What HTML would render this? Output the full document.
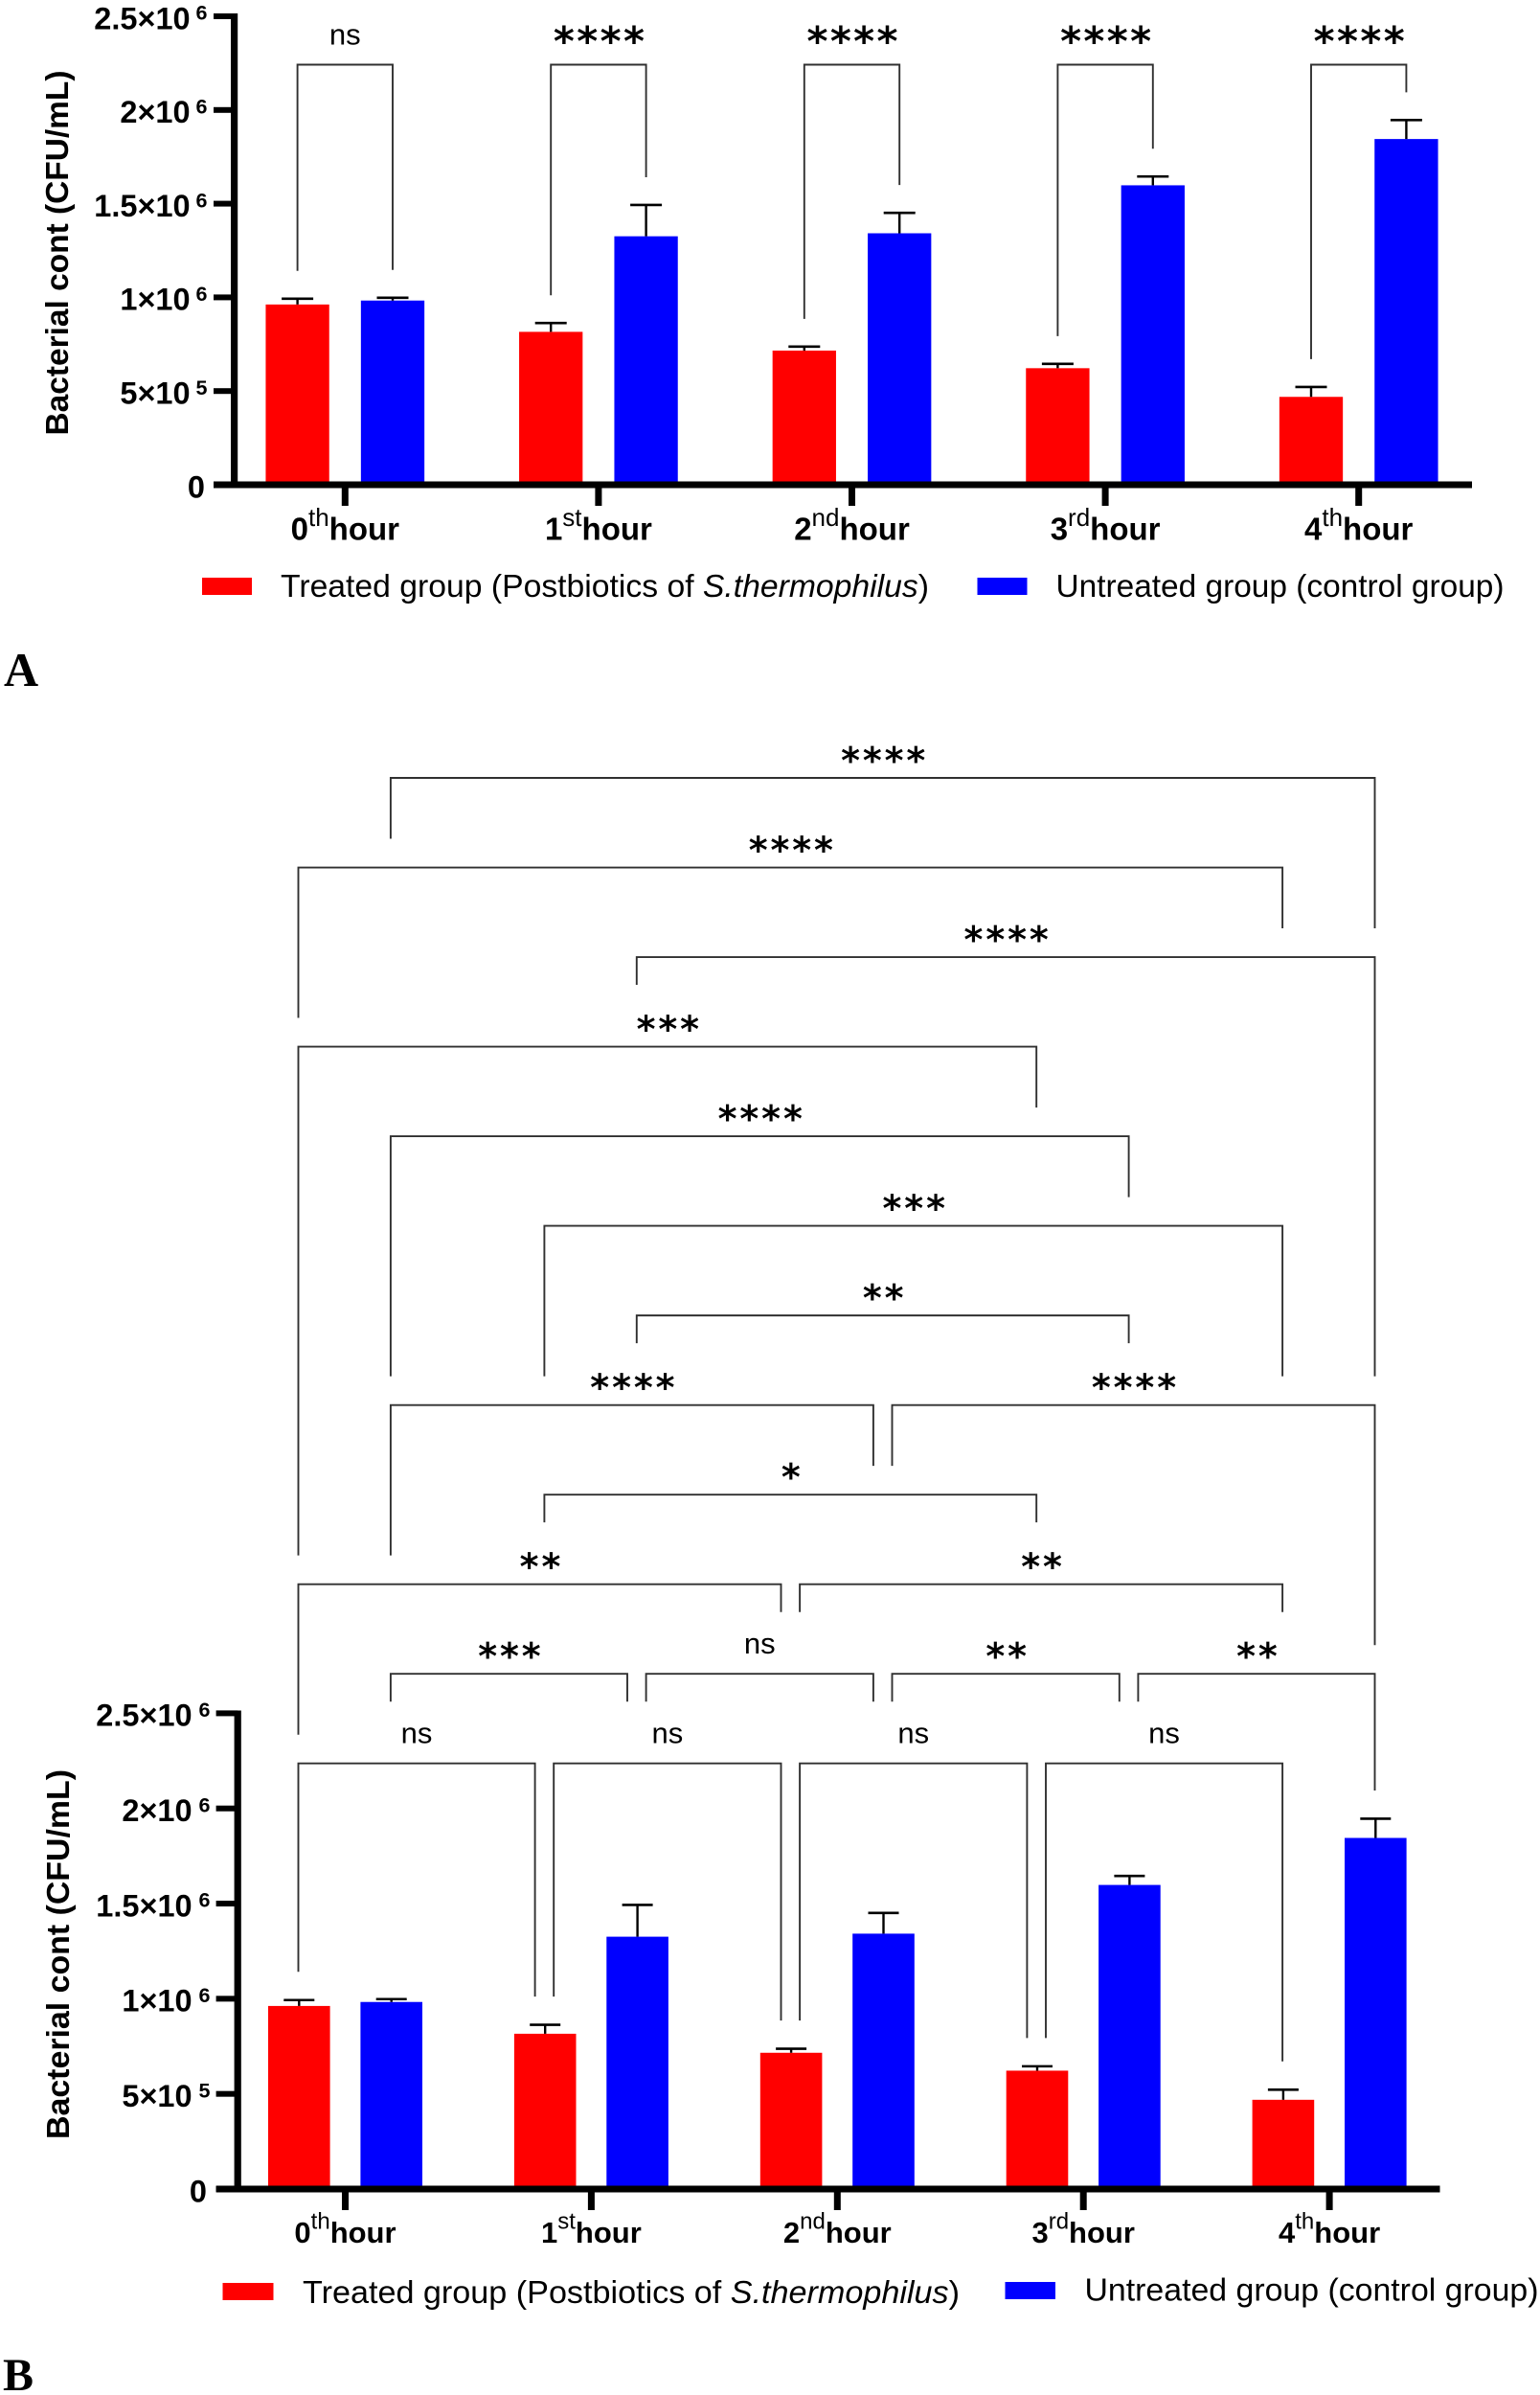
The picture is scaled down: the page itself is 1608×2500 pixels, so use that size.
<!DOCTYPE html>
<html lang="en">
<head>
<meta charset="utf-8">
<title>Bacterial count over time</title>
<style>
html,body{margin:0;padding:0;background:#fff}
svg{display:block}
text{font-family:"Liberation Sans",Arial,sans-serif;fill:#000}
.legend{font-size:33.4px}
.panel-letter{font-family:"Liberation Serif","Times New Roman",serif;font-weight:bold}
</style>
</head>
<body>
<svg id="figure" xmlns="http://www.w3.org/2000/svg" width="1608" height="2500" viewBox="0 0 1608 2500">
  <rect width="1608" height="2500" fill="#fff"/>
  <g id="panelA"></g>
  <g id="panelB"></g>

  <g>
    <rect x="211" y="603" width="52" height="18" fill="#ff0000"/>
    <text class="legend" x="293" y="623" textLength="677" lengthAdjust="spacingAndGlyphs">Treated group (Postbiotics of <tspan font-style="italic">S.thermophilus</tspan>)</text>
    <rect x="1020.5" y="603" width="52" height="18" fill="#0000ff"/>
    <text class="legend" x="1102.5" y="623" textLength="468" lengthAdjust="spacingAndGlyphs">Untreated group (control group)</text>
  </g>
  <text class="panel-letter" x="4" y="716" font-size="50">A</text>

  <g>
    <rect x="232.5" y="2383" width="53" height="18" fill="#ff0000"/>
    <text class="legend" x="316" y="2404" textLength="686" lengthAdjust="spacingAndGlyphs">Treated group (Postbiotics of <tspan font-style="italic">S.thermophilus</tspan>)</text>
    <rect x="1049.5" y="2382" width="52.5" height="18" fill="#0000ff"/>
    <text class="legend" x="1132.5" y="2401.5" textLength="474" lengthAdjust="spacingAndGlyphs">Untreated group (control group)</text>
  </g>
  <text class="panel-letter" x="3" y="2495" font-size="48">B</text>
</svg>

<script>
// ---- chart data ----
const categoryDigits = ['0', '1', '2', '3', '4'];
const categorySuffixes = ['th', 'st', 'nd', 'rd', 'th'];
const treatedValues = [962000, 816000, 716000, 622000, 469000];
const untreatedValues = [983000, 1326000, 1342000, 1598000, 1845000];
const treatedErrorTops = [993000, 863000, 737000, 645000, 522000];
const untreatedErrorTops = [998000, 1493000, 1451000, 1645000, 1946000];
const yTickValues = [0, 500000, 1000000, 1500000, 2000000, 2500000];
const yTickMantissas = ['0', '5×10', '1×10', '1.5×10', '2×10', '2.5×10'];
const yTickExponents = ['', '5', '6', '6', '6', '6'];
const yMax = 2500000;

// ---- significance comparisons: label, level, from, to, left stop, right stop ----
const comparisonsA = [
  ['ns', 0, 'r0', 'b0', 'E', 'E'],
  ['****', 0, 'r1', 'b1', 'E', 'E'],
  ['****', 0, 'r2', 'b2', 'E', 'E'],
  ['****', 0, 'r3', 'b3', 'E', 'E'],
  ['****', 0, 'r4', 'b4', 'E', 'E']
];
const comparisonsB = [
  ['****', 0, 'b0', 'b4', 'L1', 'L2'],
  ['****', 1, 'r0', 'r4', 'L3', 'L2'],
  ['****', 2, 'b1', 'b4', 'S3', 'L7'],
  ['***', 3, 'r0', 'r3', 'L9', 'L4'],
  ['****', 4, 'b0', 'b3', 'L7', 'L5'],
  ['***', 5, 'r1', 'r4', 'L7', 'L7'],
  ['**', 6, 'b1', 'b3', 'S7', 'S7'],
  ['****', 7, 'b0', 'b2-', 'L9', 'L8'],
  ['****', 7, 'b2+', 'b4', 'L8', 'L10'],
  ['*', 8, 'r1', 'r3', 'S9', 'S9'],
  ['**', 9, 'r0', 'r2-', 'L11', 'S10'],
  ['**', 9, 'r2+', 'r4', 'S10', 'S10'],
  ['***', 10, 'b0', 'b1-', 'S11', 'S11'],
  ['ns', 10, 'b1+', 'b2-', 'S11', 'S11'],
  ['**', 10, 'b2+', 'b3-', 'S11', 'S11'],
  ['**', 10, 'b3+', 'b4', 'S11', 'E'],
  ['ns', 11, 'r0', 'r1-', 'E', 'E'],
  ['ns', 11, 'r1+', 'r2-', 'E', 'E'],
  ['ns', 11, 'r2+', 'r3-', 'E', 'E'],
  ['ns', 11, 'r3+', 'r4', 'E', 'E']
];

const SVGNS = 'http://www.w3.org/2000/svg';
function mk(tag, attrs, parent) {
  const el = document.createElementNS(SVGNS, tag);
  for (const k in attrs) el.setAttribute(k, attrs[k]);
  parent.appendChild(el);
  return el;
}

function drawPanel(root, c, comparisons) {
  const y = v => c.y0 - (v / yMax) * c.plotH;
  const groupX = i => c.x0 + c.step * i;
  const levelY = l => c.level0 + c.levelStep * l;
  const series = [
    {key: 'treated', color: '#ff0000', vals: treatedValues, errs: treatedErrorTops, off: -c.off},
    {key: 'untreated', color: '#0000ff', vals: untreatedValues, errs: untreatedErrorTops, off: c.off}
  ];

  // bars + error bars
  series.forEach(s => {
    s.vals.forEach((v, i) => {
      const cx = groupX(i) + s.off;
      const bar = mk('rect', {x: cx - c.barW / 2, y: y(v), width: c.barW, height: c.y0 - y(v), fill: s.color}, root);
      
      
      const e = y(s.errs[i]);
      const stem = mk('line', {x1: cx, x2: cx, y1: y(v), y2: e, stroke: '#000', 'stroke-width': 2.4}, root);
      
      
      const cap = mk('line', {x1: cx - c.cap / 2, x2: cx + c.cap / 2, y1: e, y2: e, stroke: '#000', 'stroke-width': 2.6}, root);
      
      
    });
  });

  // axes
  const yAxis = mk('rect', {x: c.axisX - 3.6, y: c.axisTop, width: 7.2, height: c.y0 + 3.5 - c.axisTop, fill: '#000'}, root);
  
  
  const xAxis = mk('rect', {x: c.axisLeft, y: c.y0 - 3.5, width: c.axisRight - c.axisLeft, height: 7, fill: '#000'}, root);
  
  

  // y ticks
  yTickValues.forEach((v, i) => {
    const ty = y(v);
    const tick = mk('rect', {x: c.axisLeft, y: ty - 3, width: c.axisX - c.axisLeft, height: 6, fill: '#000'}, root);
    
    
    const isZero = yTickExponents[i] === '';
    const label = mk('text', {x: isZero ? c.zeroX : c.mantissaX, y: ty + c.tickBase, 'text-anchor': 'end', 'font-weight': 'bold', 'font-size': c.tickFont}, root);
    label.textContent = yTickMantissas[i];
    
    
    if (!isZero) {
      const sup = mk('text', {x: c.expX, y: ty + c.tickBase - 9.6, 'font-weight': 'bold', 'font-size': 21.5}, root);
      sup.textContent = yTickExponents[i];
      
      
    }
  });

  // x ticks + labels
  categoryDigits.forEach((d, i) => {
    const gx = groupX(i);
    const tick = mk('rect', {x: gx - 3.5, y: c.y0 + 3, width: 7, height: c.xTickLen, fill: '#000'}, root);
    
    
    const label = mk('text', {x: gx, y: c.xLabelY, 'text-anchor': 'middle', 'font-weight': 'bold', 'font-size': c.xFont}, root);
    
    
    const t1 = mk('tspan', {}, label);
    t1.textContent = d;
    const t2 = mk('tspan', {'font-weight': 'normal', 'font-size': c.supFont, dy: -14.5}, label);
    t2.textContent = categorySuffixes[i];
    const t3 = mk('tspan', {dy: 14.5}, label);
    t3.textContent = 'hour';
  });

  // y-axis title
  const title = mk('text', {
    x: 0, y: 0, 'text-anchor': 'middle', 'font-weight': 'bold', 'font-size': 33.5,
    textLength: c.titleLen, lengthAdjust: 'spacingAndGlyphs',
    transform: 'translate(' + c.titleX + ' ' + c.titleY + ') rotate(-90)'
  }, root);
  title.textContent = 'Bacterial cont (CFU/mL)';
  
  

  // brackets
  const refX = r => {
    const g = +r[1];
    let x = groupX(g) + (r[0] === 'r' ? -c.off : c.off) + c.bracketShift;
    if (r[2] === '-') x -= c.split;
    if (r[2] === '+') x += c.split;
    return x;
  };
  const refErr = r => (r[0] === 'r' ? treatedErrorTops : untreatedErrorTops)[+r[1]];
  const stopY = (stop, r) => {
    if (stop === 'E') return y(refErr(r)) - c.errGap;
    const n = +stop.slice(1);
    return levelY(n) - (stop[0] === 'L' ? 30 : 64.5);
  };
  comparisons.forEach((cmp, i) => {
    const lab = cmp[0], ly = levelY(cmp[1]), a = cmp[2], b = cmp[3];
    const xa = refX(a), xb = refX(b);
    const d = 'M' + xa + ' ' + stopY(cmp[4], a) + 'V' + ly + 'H' + xb + 'V' + stopY(cmp[5], b);
    const path = mk('path', {d: d, fill: 'none', stroke: '#303030', 'stroke-width': 1.9}, root);
    
    
    const mid = (xa + xb) / 2;
    const isNs = lab === 'ns';
    const t = mk('text', isNs
      ? {x: mid, y: ly - 21, 'text-anchor': 'middle', 'font-size': 31}
      : {x: mid + c.starSpace / 2 + 0.5, y: ly + c.starDy, 'text-anchor': 'middle', 'font-size': c.starFont, 'font-weight': 'bold', 'letter-spacing': c.starSpace, style: 'font-family:"DejaVu Sans",sans-serif'}, root);
    t.textContent = lab;
    
    
  });
}

drawPanel(document.getElementById('panelA'), {
  y0: 506, plotH: 489, x0: 360.3, step: 264.6, off: 49.7, barW: 66.3, cap: 33,
  axisX: 244.6, axisTop: 14, axisLeft: 223, axisRight: 1537,
  zeroX: 214, mantissaX: 198.6, expX: 204.5, tickBase: 13.3, tickFont: 32.5,
  xLabelY: 563.5, xFont: 33, supFont: 26, xTickLen: 19,
  titleX: 71, titleY: 264, titleLen: 381,
  level0: 67.5, levelStep: 0, split: 0, errGap: 29, bracketShift: 0,
  starFont: 42, starSpace: 2.4, starDy: -9.8
}, comparisonsA);

drawPanel(document.getElementById('panelB'), {
  y0: 2285, plotH: 496.6, x0: 360.5, step: 256.9, off: 48.2, barW: 64.6, cap: 32,
  axisX: 248.2, axisTop: 1785.5, axisLeft: 225.6, axisRight: 1503.5,
  zeroX: 216, mantissaX: 200.6, expX: 207.5, tickBase: 13.3, tickFont: 32.5,
  xLabelY: 2341, xFont: 31, supFont: 24, xTickLen: 19,
  titleX: 72, titleY: 2040, titleLen: 386,
  level0: 812, levelStep: 93.52, split: 9.8, errGap: 29.5, bracketShift: -0.8,
  starFont: 38, starSpace: 2.9, starDy: -5
}, comparisonsB);
</script>
</body>
</html>
